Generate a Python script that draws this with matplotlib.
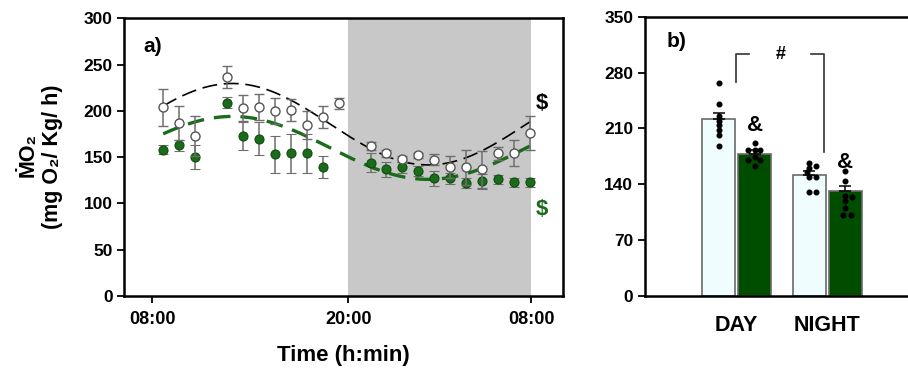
import matplotlib.pyplot as plt
import numpy as np

plt.rcParams['font.family'] = ['Liberation Sans', 'DejaVu Sans']
plt.rcParams['font.weight'] = 'bold'

# ---- panel a) data (hours from clock start) ----
hours = [8.67, 9.65, 10.63, 12.59, 13.57, 14.55, 15.51, 16.49, 17.47, 18.43, 19.41,
         21.37, 22.33, 23.31, 24.29, 25.27, 26.23, 27.21, 28.19, 29.17, 30.15, 31.13]
ctrl_mean = [204, 187, 173, 237, 203, 204, 200, 201, 185, 193, 208,
             162, 154, 148, 152, 147, 139, 139, 137, 154, 154, 176]
ctrl_err = [20, 18, 22, 12, 14, 14, 14, 12, 15, 12, 6,
            4, 4, 3, 3, 6, 12, 19, 20, 7, 14, 18]
trt_mean = [158, 163, 150, 209, 173, 170, 153, 154, 154, 139, np.nan,
            144, 137, 139, 135, 127, 127, 122, 124, 126, 123, 123]
trt_err = [5, 6, 13, 6, 15, 18, 20, 21, 21, 12, np.nan,
           10, 8, 6, 5, 8, 6, 5, 8, 5, 5, 5]

# cosinor fits: mesor, amplitude, acrophase (h), period (h)
ctrl_fit = (185.6, 44.0, 12.9, 24.0)
trt_fit = (160.0, 34.0, 12.9, 24.0)

night_start, night_end = 20.0, 31.2
tick_hours = [8, 20, 31.2]
tick_labels = ["08:00", "20:00", "08:00"]

# ---- panel b) data ----
periods = ["DAY", "NIGHT"]
ctrl_bar = [221.4, 151.2]
ctrl_bar_err = [8.3, 5.0]
trt_bar = [178.3, 131.2]
trt_bar_err = [4.2, 7.0]
ctrl_pts = [[266.5, 241, 225.6, 219.7, 214.3, 208, 201.4, 187.6],
            [166.2, 162.9, 160.8, 155, 148.8, 149.5, 130.7, 130.7]]
trt_pts = [[191.3, 183, 183, 183, 170.4, 173.8, 170.4, 162.9],
           [157, 144.5, 125.3, 124.4, 119.4, 109.9, 101.5, 101.5]]
ctrl_jit = [[0, 0, 0, 0, 0, 0, 0, 0], [0, 0.07, 0, -0.02, 0, 0.07, 0, 0.07]]
trt_jit = [[0, -0.07, 0, 0.06, -0.07, 0, 0.06, 0], [0, 0, 0, 0.07, 0, 0, -0.03, 0.06]]

green = "#1a6b1a"
dark_green = "#004d00"
light = "#f0fdff"
grey_err = "#6e6e6e"

fig = plt.figure(figsize=(9.08, 3.69), dpi=100)
ax1 = fig.add_axes([0.1371, 0.1978, 0.4826, 0.7526])
ax2 = fig.add_axes([0.7104, 0.1978, 0.2896, 0.7569])

# ---------------- panel a ----------------
ax1.axvspan(night_start, night_end, color="#c8c8c8", lw=0, zorder=0)

t = np.linspace(hours[0], hours[-1], 300)
m, a, phi, per = ctrl_fit
ax1.plot(t, m + a * np.cos(2 * np.pi * (t - phi) / per), color="black", lw=1.2,
         dashes=(9, 4), zorder=2)
m, a, phi, per = trt_fit
ax1.plot(t, m + a * np.cos(2 * np.pi * (t - phi) / per), color=green, lw=2.4,
         dashes=(5, 3), zorder=2)

ax1.errorbar(hours, ctrl_mean, yerr=ctrl_err, fmt="o", ms=6.5, mfc="white", mec="#555555",
             mew=1.0, ecolor=grey_err, elinewidth=1.1, capsize=3.5, capthick=1.1, zorder=4)
ax1.errorbar(hours, trt_mean, yerr=trt_err, fmt="o", ms=6.5, mfc=green, mec="#0d4d0d",
             mew=0.8, ecolor=grey_err, elinewidth=1.1, capsize=3.5, capthick=1.1, zorder=3)

ax1.set_xlim(6.3, 33.13)
ax1.set_ylim(0, 300)
ax1.set_xticks(tick_hours)
ax1.set_xticklabels(tick_labels, fontsize=13)
ax1.set_yticks(range(0, 301, 50))
ax1.tick_params(axis="y", labelsize=12.5)
ax1.tick_params(axis="both", width=1.3, length=5, direction="out")
ax1.tick_params(axis="x", pad=6)
for s in ax1.spines.values():
    s.set_linewidth(1.8)
ax1.set_xlabel("Time (h:min)", fontsize=16, fontweight="bold", labelpad=12)

ax1.text(0.065, 0.9, "a)", transform=ax1.transAxes, fontsize=15, fontweight="bold",
         ha="center", va="center")
ax1.text(31.86, 208, "$", fontsize=16, fontweight="bold", ha="center", va="center",
         color="black")
ax1.text(31.86, 93, "$", fontsize=16, fontweight="bold", ha="center", va="center",
         color=green)

fig.text(0.031, 0.58, "\u1E40O\u2082", rotation=90, fontsize=15.5, fontweight="bold",
         ha="center", va="center")
fig.text(0.058, 0.575, "(mg O\u2082/ Kg/ h)", rotation=90, fontsize=15.5, fontweight="bold",
         ha="center", va="center")

# ---------------- panel b ----------------
x = np.arange(len(periods))
bw = 0.36
off = 0.199
ax2.bar(x - off, ctrl_bar, width=bw, color=light, edgecolor="#6a6a6a", lw=1.2, zorder=2)
ax2.bar(x + off, trt_bar, width=bw, color=dark_green, edgecolor="#6a6a6a", lw=1.2, zorder=2)
ax2.errorbar(x - off, ctrl_bar, yerr=[np.zeros(2), ctrl_bar_err], fmt="none", ecolor="black",
             elinewidth=1.1, capsize=4, capthick=1.1, zorder=3)
ax2.errorbar(x + off, trt_bar, yerr=[np.zeros(2), trt_bar_err], fmt="none", ecolor="black",
             elinewidth=1.1, capsize=4, capthick=1.1, zorder=3)
for i in range(len(periods)):
    ax2.scatter(x[i] - off + np.array(ctrl_jit[i]), ctrl_pts[i], s=11, color="black", zorder=4)
    ax2.scatter(x[i] + off + np.array(trt_jit[i]), trt_pts[i], s=11, color="black", zorder=4)
    ax2.text(x[i] + off, trt_bar[i] + 36, "&", fontsize=16, fontweight="bold",
             ha="center", va="center")

# bracket between day and night
br_low, br_top, br_right_low = 268.6, 302.8, 180.9
ax2.plot([-0.005, -0.005, 0.14], [br_low, br_top, br_top], color="#333333", lw=1.2)
ax2.plot([0.825, 0.965, 0.965], [br_top, br_top, br_right_low], color="#333333", lw=1.2)
ax2.text(0.48, br_top, "#", fontsize=13, fontweight="bold", ha="center", va="center")
ax2.text(-0.662, 0.9105, "b)", transform=ax2.get_xaxis_transform(), fontsize=15,
         fontweight="bold", ha="center", va="center")

ax2.set_xlim(-1.012, 1.891)
ax2.set_ylim(0, 350)
ax2.set_yticks(range(0, 351, 70))
ax2.set_xticks(x)
ax2.set_xticklabels(periods, fontsize=15.5, fontweight="bold")
ax2.tick_params(axis="y", labelsize=12.5, width=1.3, length=5)
ax2.tick_params(axis="x", length=0, pad=14)
ax2.spines["right"].set_visible(False)
for s in ax2.spines.values():
    s.set_linewidth(1.8)

fig.savefig("out.png", dpi=100)
